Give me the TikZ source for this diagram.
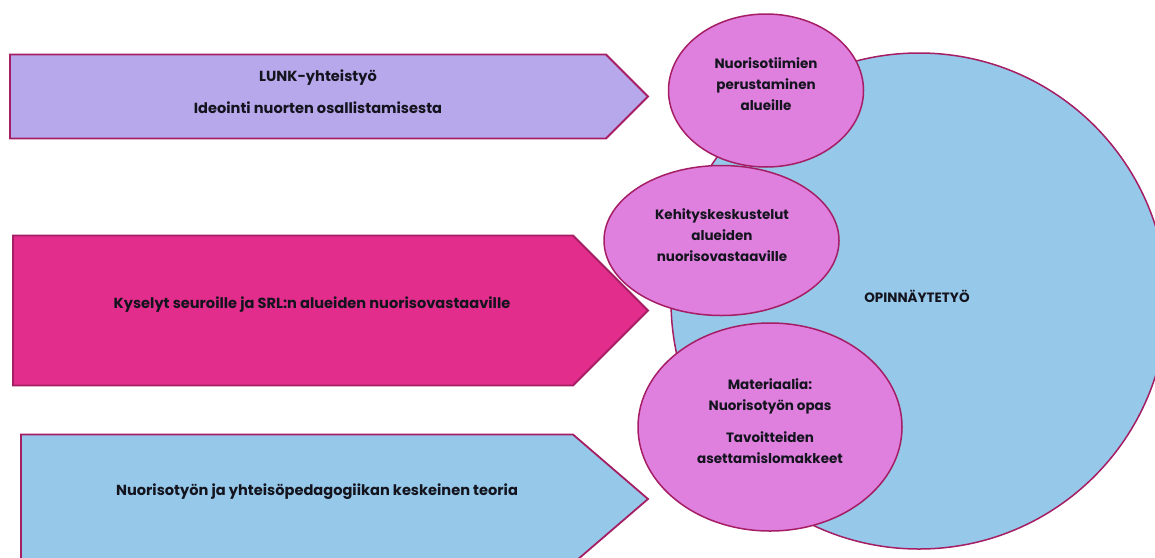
\documentclass[tikz,border=0pt]{standalone}
\usepackage{fontspec}
\setmainfont{Poppins}
\usetikzlibrary{shapes.geometric}
\definecolor{edge}{RGB}{165,30,100}
\definecolor{lav}{RGB}{183,168,236}
\definecolor{mag}{RGB}{226,45,140}
\definecolor{sky}{RGB}{149,200,233}
\definecolor{orchid}{RGB}{223,128,223}
\definecolor{ink}{RGB}{20,20,30}
\tikzset{
  arrowshape/.style={draw=edge, line width=1.8pt, line join=miter},
  bubble/.style={ellipse, draw=edge, line width=1.5pt, fill=orchid, inner sep=0pt},
  txt/.style={text=ink, align=center, inner sep=0pt, font=\fontsize{13.5}{21}\selectfont\bfseries},
  bigtxt/.style={txt, font=\fontsize{14.6}{21}\selectfont\bfseries},
}
\begin{document}
\begin{tikzpicture}[x=1pt,y=-1pt]
\useasboundingbox (0,0) rectangle (1155,557);
% arrows
\draw[arrowshape, fill=lav] (10,54.5) -- (606,54.5) -- (648,96.5) -- (606,138.5) -- (10,138.5) -- cycle;
\draw[arrowshape, fill=mag] (13,235.5) -- (573,235.5) -- (648,310.5) -- (573,385.5) -- (13,385.5) -- cycle;
\draw[arrowshape, fill=sky] (21,434.5) -- (573,434.5) -- (648,499) -- (573,563.5) -- (21,563.5) -- cycle;
\node[bigtxt] (a1) at (318,91.5) {LUNK-yhteistyö\\[11pt]Ideointi nuorten osallistamisesta};
\node[bigtxt] (a2) at (312,305) {Kyselyt seuroille ja SRL:n alueiden nuorisovastaaville};
\node[bigtxt] (a3) at (317,492) {Nuorisotyön ja yhteisöpedagogiikan keskeinen teoria};
% big circle
\node[circle, draw=edge, line width=1.5pt, fill=sky, minimum size=496pt, inner sep=0pt] (thesis) at (919,301) {};
\node[txt] (thesislabel) at (917,296) {OPINNÄYTETYÖ};
% bubbles
\node[bubble, minimum width=195pt, minimum height=153pt] (b1) at (766,90.5) {};
\node[txt] (t1) at (766,84.5) {Nuorisotiimien\\perustaminen\\alueille};
\node[bubble, minimum width=235pt, minimum height=150pt] (b2) at (721.5,240.5) {};
\node[txt] (t2) at (722,235) {Kehityskeskustelut\\alueiden\\nuorisovastaaville};
\node[bubble, minimum width=264pt, minimum height=208pt] (b3) at (770,427) {};
\node[txt] (t3) at (770,421) {Materiaalia:\\Nuorisotyön opas\\[11pt]Tavoitteiden\\asettamislomakkeet};
\end{tikzpicture}
\end{document}
